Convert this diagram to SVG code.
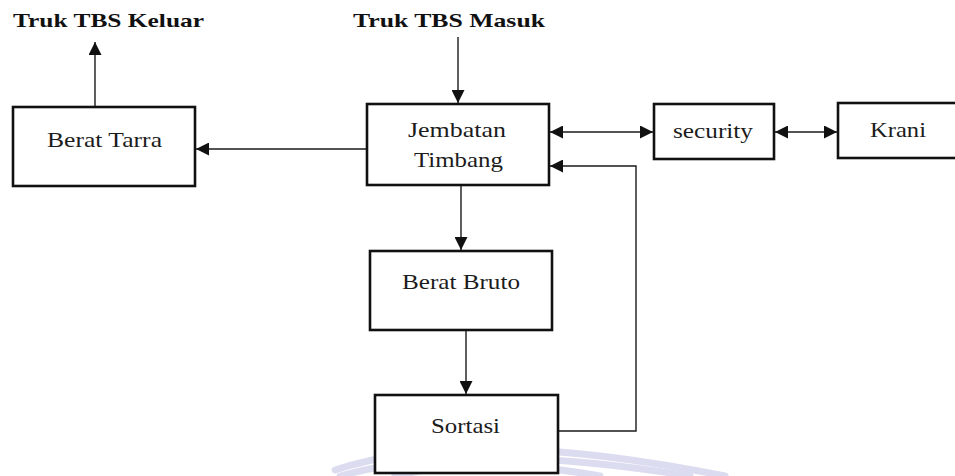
<svg xmlns="http://www.w3.org/2000/svg" width="955" height="476" viewBox="0 0 955 476">
  <defs>
    <style>
      .box { fill: #ffffff; stroke: #111111; stroke-width: 2.6; }
      .lbl { font-family: "Liberation Serif", "Times New Roman", serif; font-size: 21px; fill: #1c1c1c; text-anchor: middle; }
      .ttl { font-family: "Liberation Serif", "Times New Roman", serif; font-size: 19px; font-weight: bold; fill: #111111; }
      .con { fill: none; stroke: #1a1a1a; stroke-width: 1.4; }
      .wm { fill: none; stroke: #dcdcf0; stroke-width: 7; stroke-linecap: round; }
    </style>
    <marker id="arr" markerUnits="userSpaceOnUse" markerWidth="13" markerHeight="13" viewBox="0 0 13 13" refX="13" refY="6.5" orient="auto-start-reverse">
      <path d="M0,0 L13,6.5 L0,13 z" fill="#111111"/>
    </marker>
  </defs>
  <rect width="955" height="476" fill="#ffffff"/>

  <g id="watermark">
    <path class="wm" d="M335 470 Q 470 425 725 476"/>
    <path class="wm" d="M340 476 Q 470 440 690 476"/>
    <path class="wm" d="M395 476 Q 480 455 600 476"/>
  </g>

  <g id="connectors">
    <line class="con" x1="95" y1="107" x2="95" y2="42" marker-end="url(#arr)"/>
    <line class="con" x1="458" y1="37" x2="458" y2="103" marker-end="url(#arr)"/>
    <line class="con" x1="367" y1="149" x2="196" y2="149" marker-end="url(#arr)"/>
    <line class="con" x1="550" y1="132" x2="653" y2="132" marker-start="url(#arr)" marker-end="url(#arr)"/>
    <line class="con" x1="775" y1="132" x2="837" y2="132" marker-start="url(#arr)" marker-end="url(#arr)"/>
    <polyline class="con" points="558,431 636,431 636,166 550,166" marker-end="url(#arr)"/>
    <line class="con" x1="461" y1="185" x2="461" y2="250" marker-end="url(#arr)"/>
    <line class="con" x1="466" y1="330" x2="466" y2="394" marker-end="url(#arr)"/>
  </g>

  <g id="truk-keluar">
    <text class="ttl" x="13" y="27" textLength="191" lengthAdjust="spacingAndGlyphs">Truk TBS Keluar</text>
  </g>
  <g id="truk-masuk">
    <text class="ttl" x="353" y="27" textLength="192" lengthAdjust="spacingAndGlyphs">Truk TBS Masuk</text>
  </g>

  <g id="berat-tarra">
    <rect class="box" x="13" y="107" width="182" height="79"/>
    <text class="lbl" x="104.5" y="147" textLength="115" lengthAdjust="spacingAndGlyphs">Berat Tarra</text>
  </g>

  <g id="jembatan-timbang">
    <rect class="box" x="367" y="104" width="182" height="81"/>
    <text class="lbl" x="457" y="137" textLength="98" lengthAdjust="spacingAndGlyphs">Jembatan</text>
    <text class="lbl" x="458.5" y="167" textLength="89" lengthAdjust="spacingAndGlyphs">Timbang</text>
  </g>

  <g id="security">
    <rect class="box" x="654" y="104" width="120" height="55"/>
    <text class="lbl" x="713" y="138" textLength="80" lengthAdjust="spacingAndGlyphs">security</text>
  </g>

  <g id="krani">
    <rect class="box" x="838" y="103" width="125" height="55"/>
    <text class="lbl" x="898" y="137" textLength="56" lengthAdjust="spacingAndGlyphs">Krani</text>
  </g>

  <g id="berat-bruto">
    <rect class="box" x="370" y="251" width="182" height="79"/>
    <text class="lbl" x="461" y="289" textLength="118" lengthAdjust="spacingAndGlyphs">Berat Bruto</text>
  </g>

  <g id="sortasi">
    <rect class="box" x="375" y="395" width="183" height="78"/>
    <text class="lbl" x="465.5" y="433" textLength="69" lengthAdjust="spacingAndGlyphs">Sortasi</text>
  </g>
</svg>
